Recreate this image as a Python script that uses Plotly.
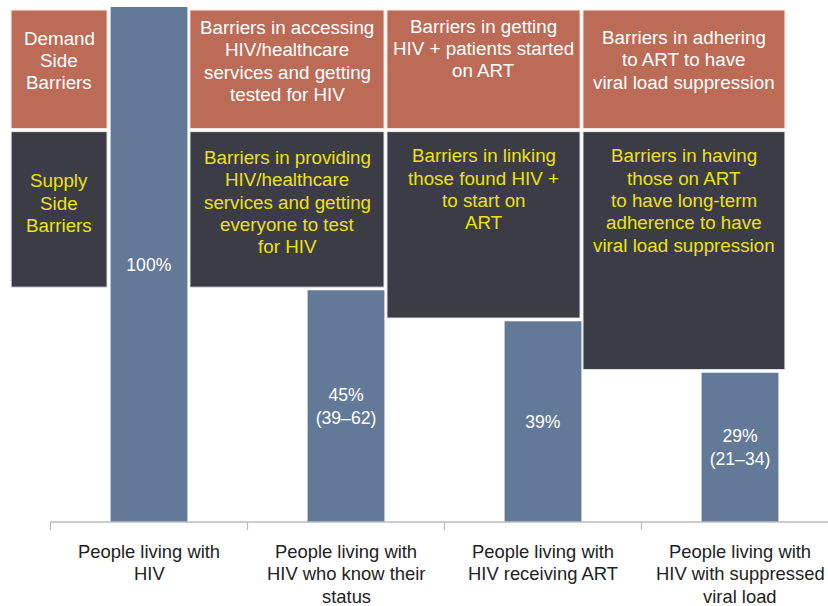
import plotly.graph_objects as go

# ---- data ----
categories = [
    "People living with<br>HIV",
    "People living with<br>HIV who know their<br>status",
    "People living with<br>HIV receiving ART",
    "People living with<br>HIV with suppressed<br>viral load",
]
values = [100, 45, 39, 29]
bar_labels = ["100%", "45%<br>(39–62)", "39%", "29%<br>(21–34)"]
demand_texts = [
    "Demand<br>Side<br>Barriers",
    "Barriers in accessing<br>HIV/healthcare<br>services and getting<br>tested for HIV",
    "Barriers in getting<br>HIV + patients started<br>on ART",
    "Barriers in adhering<br>to ART to have<br>viral load suppression",
]
supply_texts = [
    "Supply<br>Side<br>Barriers",
    "Barriers in providing<br>HIV/healthcare<br>services and getting<br>everyone to test<br>for HIV",
    "Barriers in linking<br>those found HIV +<br>to start on<br>ART",
    "Barriers in having<br>those on ART<br>to have long-term<br>adherence to have<br>viral load suppression",
]

# ---- styles / layout constants ----
BAR_COLOR = "#627998"
DEMAND_COLOR = "#BC6B57"
SUPPLY_COLOR = "#3B3C45"
YELLOW = "#ECE01A"
FONT = "Liberation Sans, Arial, sans-serif"

W, H = 828, 606
PX_PER_UNIT = 197.0
X0 = -0.5 - 50.5 / PX_PER_UNIT
X1 = X0 + W / PX_PER_UNIT

box_x = [(-0.700, -0.213), (0.208, 1.193), (1.208, 2.188), (2.203, 3.228)]
demand_top, demand_bottom = 99.4, 76.4
supply_top = 75.8
supply_bottom = [values[1] + 0.6] + [v + 0.6 for v in values[1:]]
# first-line centre offsets (px) below the box top, and line spacing
demand_text_off = [28, 17.3, 16, 27.3]
supply_text_off = [49, 25.7, 24, 24]
LINE = 22.4
BOX_FONT = 18.8
CAT_FONT = 18.4
CAT_OFF = 29
CAT_LINE = 22.6

x_pos = list(range(len(values)))

fig = go.Figure()
fig.add_trace(go.Bar(
    x=x_pos, y=values, width=0.39,
    marker=dict(color=BAR_COLOR, line=dict(width=0)),
    text=bar_labels, textposition="inside", insidetextanchor="middle",
    textfont=dict(color="white", size=17.6, family=FONT),
    textangle=0, hoverinfo="skip",
))

shapes = []
annotations = []


def add_lines(text, x, y, yref, off, spacing, color, size):
    for j, line in enumerate(text.split("<br>")):
        annotations.append(dict(xref="x", yref=yref, x=x, y=y, yanchor="middle",
                                xanchor="center", yshift=-(off + j * spacing),
                                text=line, showarrow=False, align="center",
                                font=dict(color=color, size=size, family=FONT)))


for i, (xa, xb) in enumerate(box_x):
    shapes.append(dict(type="rect", xref="x", yref="y", x0=xa, x1=xb,
                       y0=demand_bottom, y1=demand_top, fillcolor=DEMAND_COLOR,
                       line=dict(color="#F4E4DF", width=1), layer="above"))
    shapes.append(dict(type="rect", xref="x", yref="y", x0=xa, x1=xb,
                       y0=supply_bottom[i], y1=supply_top, fillcolor=SUPPLY_COLOR,
                       line=dict(color="#E6E6E9", width=1), layer="above"))
    xc = (xa + xb) / 2
    add_lines(demand_texts[i], xc, demand_top, "y", demand_text_off[i], LINE, "white", BOX_FONT)
    add_lines(supply_texts[i], xc, supply_top, "y", supply_text_off[i], LINE, YELLOW, BOX_FONT)

# category labels under the axis
for i, cat in enumerate(categories):
    add_lines(cat, x_pos[i], 0, "paper", CAT_OFF, CAT_LINE, "#222222", CAT_FONT)

# axis line and boundary ticks
shapes.append(dict(type="line", xref="x", yref="paper", x0=-0.5, x1=X1, y0=0, y1=0,
                   line=dict(color="#BBBBBB", width=1.5)))
for b in [p - 0.5 for p in x_pos]:
    shapes.append(dict(type="line", xref="x", yref="paper", x0=b, x1=b, y0=0,
                       y1=-8 / 515, line=dict(color="#BBBBBB", width=1.2)))

fig.update_layout(
    width=W, height=H,
    margin=dict(l=0, r=0, t=7, b=84, autoexpand=False),
    paper_bgcolor="white", plot_bgcolor="white",
    showlegend=False,
    shapes=shapes, annotations=annotations,
    xaxis=dict(range=[X0, X1], tickvals=x_pos, showticklabels=False,
               showgrid=False, zeroline=False, showline=False, automargin=False,
               ticks="", fixedrange=True),
    yaxis=dict(range=[0, 100], visible=False, fixedrange=True, automargin=False),
    font=dict(family=FONT),
)

fig.write_html("out.html")
